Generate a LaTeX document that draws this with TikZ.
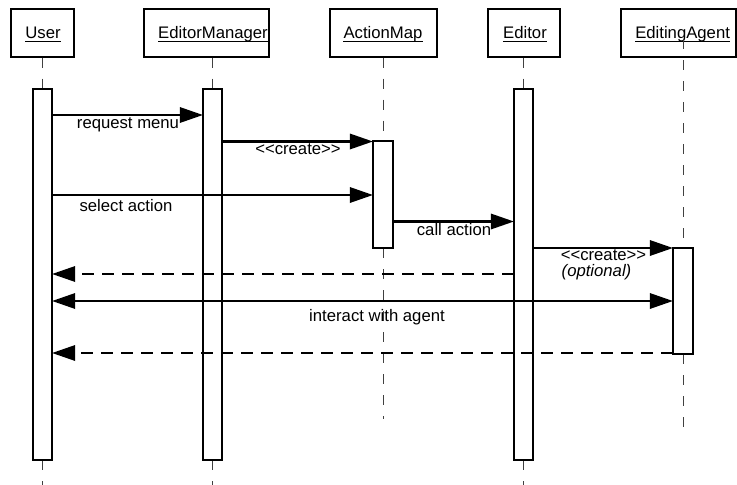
\documentclass[tikz,border=0pt]{standalone}
\usepackage{fontspec}
\setmainfont{Liberation Sans}
\usetikzlibrary{arrows.meta}
\begin{document}
\begin{tikzpicture}[x=1pt,y=-1pt,
  hdr/.style={draw, line width=1.3pt, minimum width=#1, minimum height=48pt, inner sep=0pt},
  lbl/.style={inner sep=0pt, font=\fontsize{16.7}{20}\selectfont},
  uline/.style={line width=1pt},
  life/.style={line width=1pt, black!75, dash pattern=on 10pt off 11pt},
  bar/.style={minimum width=#1, inner sep=0pt},
  msg/.style={line width=2.6pt, -{Triangle[length=23pt,width=16pt,line width=0pt]}},
  ret/.style={msg, dash pattern=on 12pt off 8pt},
  both/.style={line width=2.6pt, {Triangle[length=23pt,width=16pt,line width=0pt]}-{Triangle[length=23pt,width=16pt,line width=0pt]}}
]
\useasboundingbox (0,0) rectangle (737,485);

% header boxes
\node[hdr=63pt]  (hU) at (42.5,33) {};
\node[hdr=125pt] (hM) at (206.5,33) {};
\node[hdr=107pt] (hA) at (383.5,33) {};
\node[hdr=72pt]  (hE) at (524,33) {};
\node[hdr=115pt] (hG) at (678.5,33) {};

\node[lbl, anchor=base] (tU) at (43,38.5) {User};
\node[lbl, anchor=base] (tM) at (213,38.5) {EditorManager};
\node[lbl, anchor=base] (tA) at (383,38.5) {ActionMap};
\node[lbl, anchor=base] (tE) at (525,38.5) {Editor};
\node[lbl, anchor=base] (tG) at (682.6,38.5) {EditingAgent};
\foreach \t in {tU,tM,tA,tE,tG}
  \draw[uline] ([yshift=-3pt]\t.base west) -- ([yshift=-3pt]\t.base east);

% level coordinates
\coordinate (bot) at (0,485);
\coordinate (amend) at (0,419);
\coordinate (agend) at (0,428);
\coordinate (agtop) at (683,39);
\coordinate (y1) at (0,115);
\coordinate (y2) at (0,141.5);
\coordinate (y3) at (0,195);
\coordinate (y4) at (0,221.5);
\coordinate (y5) at (0,248);
\coordinate (y6) at (0,274);
\coordinate (y7) at (0,301);
\coordinate (y8) at (0,353);

% activation bars (positions only, drawn later)
\path
  (42.5,274.5) node[bar=19pt, minimum height=371pt] (bU) {}
  (212.5,274.5) node[bar=19pt, minimum height=371pt] (bM) {}
  (523.5,274.5) node[bar=19pt, minimum height=371pt] (bE) {}
  (383,194.5) node[bar=20pt, minimum height=107pt] (bA) {}
  (683,301) node[bar=20pt, minimum height=106pt] (bG) {};

% lifelines
\draw[life] (bU.north |- hU.south) -- (bU.north);
\draw[life] (bU.south) -- (bU.south |- bot);
\draw[life] (bM.north |- hM.south) -- (bM.north);
\draw[life] (bM.south) -- (bM.south |- bot);
\draw[life] (bE.north |- hE.south) -- (bE.north);
\draw[life] (bE.south) -- (bE.south |- bot);
\draw[life] (bA.north |- hA.south) -- (bA.north);
\draw[life] (bA.south) -- (bA.south |- amend);
\draw[life] (agtop) -- (bG.north);
\draw[life] (bG.south) -- (bG.south |- agend);

% bars drawn
\foreach \b in {bU,bM,bE,bA,bG}
  \draw[line width=2.2pt, fill=white] (\b.south west) rectangle (\b.north east);

% messages
\draw[msg] (bU.east |- y1) -- (bM.west |- y1);
\node[lbl, anchor=base] (l1) at (128,128) {request menu};
\draw[msg] (bM.east |- y2) -- (bA.west |- y2);
\node[lbl, anchor=base] (l2) at (298,154) {<{}<create>{}>};
\draw[msg] (bU.east |- y3) -- (bA.west |- y3);
\node[lbl, anchor=base] (l3) at (126,211) {select action};
\draw[msg] (bA.east |- y4) -- (bE.west |- y4);
\node[lbl, anchor=base] (l4) at (454,235) {call action};
\draw[msg] (bE.east |- y5) -- (bG.west |- y5);
\node[lbl, anchor=base] (l5) at (603.5,260) {<{}<create>{}>};
\node[lbl, anchor=base] (l6) at (596.5,276) {\itshape (optional)};
\draw[ret] (bE.west |- y6) -- (bU.east |- y6);
\draw[both] (bU.east |- y7) -- (bG.west |- y7);
\node[lbl, anchor=base] (l7) at (377,321) {interact with agent};
\draw[ret] (bG.west |- y8) -- (bU.east |- y8);
\end{tikzpicture}
\end{document}
